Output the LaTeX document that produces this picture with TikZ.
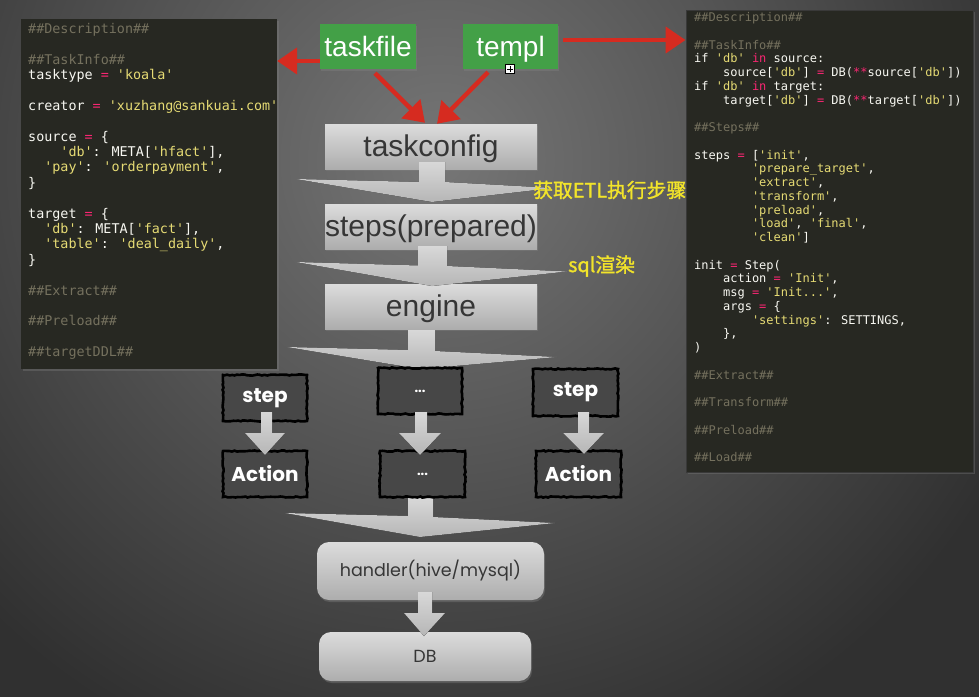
\documentclass[tikz,border=0pt]{standalone}
\usepackage{fontspec}
\setmainfont{Liberation Sans}
\newfontfamily\codefont{DejaVu Sans Mono}[Ligatures=TeXOff]
\newfontfamily\cjkfont{Noto Sans CJK SC}[AutoFakeBold=1.5]
\newfontfamily\chalkfont{Poppins}
\usetikzlibrary{arrows.meta,shadows,decorations.pathmorphing}
\definecolor{bgA}{HTML}{767676}
\definecolor{bgB}{HTML}{303030}
\definecolor{codebg}{HTML}{272822}
\definecolor{codetxt}{HTML}{F8F8F2}
\definecolor{codestrc}{HTML}{E6DB74}
\definecolor{codekwc}{HTML}{F92672}
\definecolor{codecmc}{HTML}{75715E}
\definecolor{greenc}{HTML}{43A047}
\definecolor{boxtop}{HTML}{DCDCDC}
\definecolor{boxbot}{HTML}{ADADAD}
\definecolor{chevtop}{HTML}{D8D8D8}
\definecolor{chevbot}{HTML}{B6B6B6}
\definecolor{redc}{HTML}{D62B20}
\definecolor{yelc}{HTML}{F2E42A}
\definecolor{blkfill}{HTML}{474747}
\definecolor{boxtext}{HTML}{363636}
\pgfdeclareradialshading{bgshade}{\pgfpoint{0bp}{0bp}}{color(0bp)=(bgA); color(17bp)=(bgB); color(50bp)=(bgB)}
\newcommand\codestr[1]{\textcolor{codestrc}{#1}}
\newcommand\codekw[1]{\textcolor{codekwc}{#1}}
\newcommand\codecm[1]{\textcolor{codecmc}{#1}}
\newcommand\Lline[3]{\node[lcode] (#1) at (28,{33.2+15.4*#2}) {#3};}
\newcommand\Rline[3]{\node[rcode] (#1) at (694,{21.5+13.75*#2}) {#3};}
\begin{document}
\begin{tikzpicture}[x=1pt,y=-1pt,
  lcode/.style={anchor=base west,inner sep=0pt,text=codetxt,font=\codefont\fontsize{13.4}{16}\selectfont},
  rcode/.style={anchor=base west,inner sep=0pt,text=codetxt,font=\codefont\fontsize{12}{14}\selectfont},
  panel/.style={fill=codebg,inner sep=0pt,drop shadow={opacity=0.35,shadow xshift=2pt,shadow yshift=-2pt}},
  greenbox/.style={fill=greenc,text=white,minimum width=96pt,minimum height=45pt,inner sep=0pt,
    text height=20pt,text depth=0pt,
    font=\fontsize{28}{30}\selectfont,drop shadow={opacity=0.4,shadow xshift=1pt,shadow yshift=-2pt}},
  graybox/.style={top color=boxtop,bottom color=boxbot,text=boxtext,minimum width=212pt,minimum height=45pt,
    inner sep=0pt,text height=19pt,text depth=0pt,
    font=\fontsize{30}{32}\selectfont,drop shadow={opacity=0.4,shadow xshift=1pt,shadow yshift=-2pt}},
  roundbox/.style={top color=boxtop,bottom color=boxbot,text=boxtext,rounded corners=12pt,inner sep=0pt,
    font=\chalkfont\fontsize{17.5}{20}\selectfont,drop shadow={opacity=0.4,shadow xshift=1pt,shadow yshift=-2pt}},
  blkbox/.style={fill=blkfill,draw=black,line width=2.6pt,text=white,minimum width=84pt,minimum height=46pt,
    inner sep=0pt,font=\chalkfont\bfseries\fontsize{20}{22}\selectfont,
    decoration={random steps,segment length=2.5pt,amplitude=0.6pt},decorate},
  chev/.style={top color=chevtop,bottom color=chevbot},
  redarrow/.style={draw=redc,line width=4.5pt,-{Triangle[length=20pt,width=26pt]}},
  yellab/.style={anchor=west,inner sep=0pt,text=yelc,font=\cjkfont\bfseries\fontsize{19.8}{21}\selectfont}]
\useasboundingbox (0,0) rectangle (979,696);
% background
\begin{scope}
\clip (0,0) rectangle (979,696);
\fill[bgB] (0,0) rectangle (979,696);
\shade[shading=bgshade] (440,160) circle (940);
\end{scope}
% code panels
\node[panel,minimum width=256pt,minimum height=350pt] (lpanel) at (149,194) {};
\node[panel,draw=gray!45!black,line width=1pt,minimum width=287pt,minimum height=462pt] (rpanel) at (829.5,241) {};
% left code
\Lline{l0}{0}{\codecm{\#\#Description\#\#}}
\Lline{l2}{2}{\codecm{\#\#TaskInfo\#\#}}
\Lline{l3}{3}{tasktype \codekw{=} \codestr{'koala'}}
\Lline{l5}{5}{creator \codekw{=} \codestr{'xuzhang@sankuai.com'}}
\Lline{l7}{7}{source \codekw{=} \{}
\Lline{l8}{8}{\phantom{0000}\codestr{'db'}: META[\codestr{'hfact'}],}
\Lline{l9}{9}{\phantom{00}\codestr{'pay'}: \codestr{'orderpayment'},}
\Lline{l10}{10}{\}}
\Lline{l12}{12}{target \codekw{=} \{}
\Lline{l13}{13}{\phantom{00}\codestr{'db'}: META[\codestr{'fact'}],}
\Lline{l14}{14}{\phantom{00}\codestr{'table'}: \codestr{'deal\_daily'},}
\Lline{l15}{15}{\}}
\Lline{l17}{17}{\codecm{\#\#Extract\#\#}}
\Lline{l19}{19}{\codecm{\#\#Preload\#\#}}
\Lline{l21}{21}{\codecm{\#\#targetDDL\#\#}}
% right code
\Rline{r0}{0}{\codecm{\#\#Description\#\#}}
\Rline{r2}{2}{\codecm{\#\#TaskInfo\#\#}}
\Rline{r3}{3}{if \codestr{'db'} \codekw{in} source:}
\Rline{r4}{4}{\phantom{0000}source[\codestr{'db'}] \codekw{=} DB(\codekw{**}source[\codestr{'db'}])}
\Rline{r5}{5}{if \codestr{'db'} \codekw{in} target:}
\Rline{r6}{6}{\phantom{0000}target[\codestr{'db'}] \codekw{=} DB(\codekw{**}target[\codestr{'db'}])}
\Rline{r8}{8}{\codecm{\#\#Steps\#\#}}
\Rline{r10}{10}{steps \codekw{=} [\codestr{'init'},}
\Rline{r11}{11}{\phantom{00000000}\codestr{'prepare\_target'},}
\Rline{r12}{12}{\phantom{00000000}\codestr{'extract'},}
\Rline{r13}{13}{\phantom{00000000}\codestr{'transform'},}
\Rline{r14}{14}{\phantom{00000000}\codestr{'preload'},}
\Rline{r15}{15}{\phantom{00000000}\codestr{'load'}, \codestr{'final'},}
\Rline{r16}{16}{\phantom{00000000}\codestr{'clean'}]}
\Rline{r18}{18}{init \codekw{=} Step(}
\Rline{r19}{19}{\phantom{0000}action \codekw{=} \codestr{'Init'},}
\Rline{r20}{20}{\phantom{0000}msg \codekw{=} \codestr{'Init...'},}
\Rline{r21}{21}{\phantom{0000}args \codekw{=} \{}
\Rline{r22}{22}{\phantom{00000000}\codestr{'settings'}: SETTINGS,}
\Rline{r23}{23}{\phantom{0000}\},}
\Rline{r24}{24}{)}
\Rline{r26}{26}{\codecm{\#\#Extract\#\#}}
\Rline{r28}{28}{\codecm{\#\#Transform\#\#}}
\Rline{r30}{30}{\codecm{\#\#Preload\#\#}}
\Rline{r32}{32}{\codecm{\#\#Load\#\#}}
% green boxes
\node[greenbox] (taskfile) at (368,46.5) {taskfile};
\node[greenbox,minimum width=95pt] (templ) at (510.5,46.5) {templ};
\node[draw=black,fill=white,line width=0.6pt,minimum size=9pt,inner sep=0pt] (cursor) at (510,69) {};
\draw[black,line width=0.7pt] ([xshift=-3pt]cursor.center) -- ([xshift=3pt]cursor.center)
  ([yshift=-3pt]cursor.center) -- ([yshift=3pt]cursor.center);
% gray boxes
\node[graybox] (tc) at (431,146.5) {taskconfig};
\node[graybox] (sp) at (431,226.5) {steps(prepared)};
\node[graybox] (en) at (431,306.5) {engine};
% chevrons
\fill[chev] (296,179) -- (419,182) -- (419,162) -- (445,162) -- (445,182) -- (553,188) -- (432,202) -- cycle;
\fill[chev] (296,262) -- (418,265.5) -- (418,246) -- (447,246) -- (447,266) -- (567,271.5) -- (432,286) -- cycle;
\fill[chev] (287,347) -- (408,350) -- (408,330) -- (435,330) -- (435,351) -- (557,357) -- (420,369) -- cycle;
\fill[chev] (285,513) -- (408,516) -- (408,498) -- (433,498) -- (433,517) -- (555,523) -- (420,537) -- cycle;
% yellow labels
\node[yellab] (lab1) at (533,190) {获取ETL执行步骤};
\node[yellab] (lab2) at (568,266) {sql渲染};
% red arrows
\draw[redarrow] ([yshift=-14.5pt]taskfile.west) -- (lpanel.east |- 0,61);
\draw[redarrow] ([xshift=5pt,yshift=6.5pt]templ.east) -- (rpanel.west |- 0,40);
\draw[redarrow] ([xshift=7pt,yshift=-4pt]taskfile.south) -- ([xshift=-6pt,yshift=1pt]tc.north);
\draw[redarrow] ([xshift=-22.5pt,yshift=-3pt]templ.south) -- ([xshift=6pt,yshift=0pt]tc.north);
% black sketch boxes
\node[blkbox] (st1) at (265,398) {step};
\node[blkbox] (ac1) at (265,474) {Action};
\node[blkbox] (dt1) at (420,391) {\fontsize{13}{14}\selectfont ...};
\node[blkbox,minimum width=85pt] (dt2) at (422.5,474) {\fontsize{13}{14}\selectfont ...};
\node[blkbox,minimum width=85pt,minimum height=47pt] (st3) at (575.5,392.5) {step};
\node[blkbox,minimum width=85pt] (ac3) at (578.5,474) {Action};
% small block arrows
\fill[chev] (261,412) -- (272,412) -- (272,433) -- (285,433) -- (265,455) -- (245,433) -- (261,433) -- cycle;
\fill[chev] (415,412) -- (427,412) -- (427,433) -- (441,433) -- (420,455) -- (399,433) -- (415,433) -- cycle;
\fill[chev] (578,412) -- (589,412) -- (589,433) -- (604,433) -- (584,454) -- (563,433) -- (578,433) -- cycle;
% handler and DB
\node[roundbox,minimum width=227pt,minimum height=58pt] (hd) at (430.5,571) {handler(hive/mysql)};
\node[roundbox,minimum width=212pt,minimum height=49pt] (db) at (425,656.5) {DB};
\fill[chev] (418,592) -- (432,592) -- (432,613) -- (445,613) -- (424,636) -- (404,613) -- (418,613) -- cycle;
\end{tikzpicture}
\end{document}
